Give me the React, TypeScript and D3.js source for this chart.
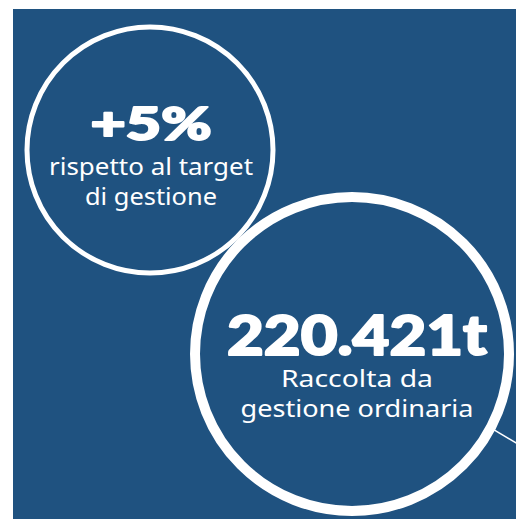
import React from "react";
import * as d3 from "d3";

const headlines = ["+5%", "220.421t"];
const captionLine1 = ["rispetto al target", "Raccolta da"];
const captionLine2 = ["di gestione", "gestione ordinaria"];

const W = 516;
const H = 519;
const BG = "#1f5280";

export default function App() {
  const x = d3.scaleLinear().domain([0, 1]).range([0, W]);
  const y = d3.scaleLinear().domain([0, 1]).range([0, H]);

  const circles = [
    { cx: x(0.2907), cy: y(0.289), r: 123, sw: 5, cxText: 151, headY: 140, l1Y: 175, l2Y: 205, headSize: 46, capSize: 24, headW: 121, l1W: 204, l2W: 132 },
    { cx: x(0.6822), cy: y(0.6821), r: 157, sw: 10, cxText: 357, headY: 355, l1Y: 387, l2Y: 417, headSize: 56, capSize: 24, headW: 260, l1W: 152, l2W: 233 },
  ];

  const c2 = circles[1];
  const ang = Math.atan2(433 - c2.cy, 500 - c2.cx);
  const lx1 = c2.cx + (c2.r + 4) * Math.cos(ang);
  const ly1 = c2.cy + (c2.r + 4) * Math.sin(ang);

  return (
    <svg
      width={W}
      height={H}
      style={{ position: "absolute", left: 0, top: 0, background: "#fff" }}
    >
      <rect x={13} y={9} width={W - 13} height={H - 9} fill={BG} />
      <line x1={lx1} y1={ly1} x2={lx1 + 40} y2={ly1 + 24} stroke="#fff" strokeWidth={1.5} />
      {circles.map((c, i) => (
        <g key={i}>
          <circle cx={c.cx} cy={c.cy} r={c.r} fill="none" stroke="#fff" strokeWidth={c.sw} />
          <text
            x={c.cxText}
            y={c.headY}
            textAnchor="middle"
            fill="#fff"
            stroke="#fff"
            strokeWidth={2}
            strokeLinejoin="round"
            fontFamily="Lato, Inter, sans-serif"
            fontWeight={900}
            fontSize={c.headSize}
            textLength={c.headW}
            lengthAdjust="spacingAndGlyphs"
          >
            {headlines[i]}
          </text>
          <text
            x={c.cxText}
            y={c.l1Y}
            textAnchor="middle"
            fill="#fff"
            fontFamily="'Noto Sans', Lato, sans-serif"
            fontSize={c.capSize}
            textLength={c.l1W}
            lengthAdjust="spacingAndGlyphs"
          >
            {captionLine1[i]}
          </text>
          <text
            x={c.cxText}
            y={c.l2Y}
            textAnchor="middle"
            fill="#fff"
            fontFamily="'Noto Sans', Lato, sans-serif"
            fontSize={c.capSize}
            textLength={c.l2W}
            lengthAdjust="spacingAndGlyphs"
          >
            {captionLine2[i]}
          </text>
        </g>
      ))}
    </svg>
  );
}
